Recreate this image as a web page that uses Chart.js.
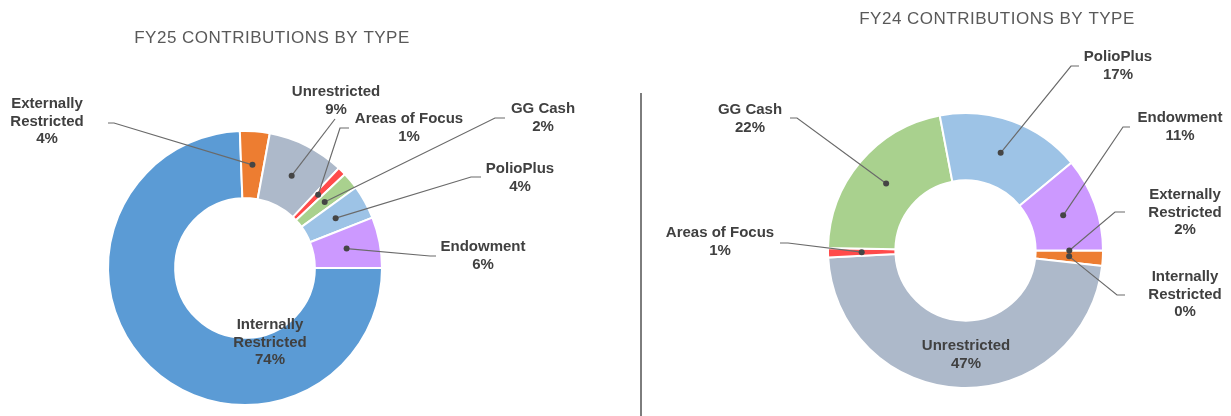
<!DOCTYPE html>
<html>
<head>
<meta charset="utf-8">
<title>Contributions by type</title>
<script src="https://cdn.jsdelivr.net/npm/chart.js@4.4.1/dist/chart.umd.min.js"></script>
<style>
  html, body { margin: 0; padding: 0; background: #fff; overflow: hidden; }
  #wrap { position: relative; width: 1231px; height: 416px; }
  #fy25 { position: absolute; left: 0; top: 0; }
  #fy24 { position: absolute; left: 640px; top: 0; }
  #divider { position: absolute; left: 640px; top: 93px; width: 2px; height: 323px; background: #7d7d7d; }
</style>
</head>
<body>
<div id="wrap">
  <canvas id="fy25" width="640" height="416"></canvas>
  <div id="divider"></div>
  <canvas id="fy24" width="591" height="416"></canvas>
</div>
<script>
// categories, in the order the slices run clockwise from 3 o'clock
const categories = ["Internally Restricted", "Externally Restricted", "Unrestricted", "Areas of Focus", "GG Cash", "PolioPlus", "Endowment"];
const labelNames = ["Internally\nRestricted", "Externally\nRestricted", "Unrestricted", "Areas of Focus", "GG Cash", "PolioPlus", "Endowment"];

// share of contributions (%)
const fy25Values = [74.4, 3.5, 9.1, 1.0, 2.0, 4.0, 6.0];
const fy24Values = [0, 1.8, 47.4, 1.1, 21.7, 17.0, 11.0];

const sliceColors = ["#5B9BD5", "#ED7D31", "#ADB9CA", "#FF4B4B", "#A9D18E", "#9DC3E6", "#CC99FF"];

// where each data label sits (page pixels) and the elbow of its leader line
// (dotOf: the two tiny FY24 slices have their leaders swapped, as in the original)
const fy25Spots = [
    { x: 270, y: 325 },
    { x: 47, y: 104, line: [[108, 123], [114, 123]] },
    { x: 336, y: 92, line: [[335, 119]] },
    { x: 409, y: 119, line: [[349, 128], [340, 128]] },
    { x: 543, y: 109, line: [[505, 118], [495, 118]] },
    { x: 520, y: 169, line: [[481, 177], [471, 177]] },
    { x: 483, y: 247, line: [[436, 256], [430, 256]] }
];
const fy24Spots = [
    { x: 1185, y: 277, line: [[1125, 295], [1117, 295]], dotOf: 1 },
    { x: 1185, y: 195, line: [[1125, 212], [1115, 212]], dotOf: 0 },
    { x: 966, y: 346 },
    { x: 720, y: 233, line: [[780, 243], [788, 243]] },
    { x: 750, y: 110, line: [[790, 118], [797, 118]] },
    { x: 1118, y: 57, line: [[1079, 66], [1071, 66]] },
    { x: 1180, y: 118, line: [[1130, 127], [1123, 127]] }
];

Chart.defaults.font.family = '"Liberation Sans", Arial, sans-serif';

const calloutPlugin = {
    id: "callouts",
    afterDraw(chart, args, opts) {
        const ctx = chart.ctx;
        const meta = chart.getDatasetMeta(0);
        const values = chart.data.datasets[0].data;
        const total = values.reduce((a, b) => a + b, 0);
        const ox = opts.originX;

        ctx.save();
        ctx.translate(-ox, 0);

        // title
        ctx.font = '17px "Liberation Sans", Arial, sans-serif';
        ctx.fillStyle = "#595959";
        ctx.textAlign = "center";
        ctx.textBaseline = "middle";
        if ("letterSpacing" in ctx) ctx.letterSpacing = "0.5px";
        ctx.fillText(opts.title, opts.titleX, opts.titleY);
        if ("letterSpacing" in ctx) ctx.letterSpacing = "0px";

        // leader lines + dots
        meta.data.forEach((arc, i) => {
            const spot = opts.spots[i];
            if (!spot.line) return;
            const target = spot.dotOf !== undefined ? meta.data[spot.dotOf] : arc;
            const c = target.getCenterPoint();
            const dx = c.x + ox, dy = c.y;
            ctx.strokeStyle = "#6a6a6a";
            ctx.lineWidth = 1.2;
            ctx.beginPath();
            ctx.moveTo(spot.line[0][0], spot.line[0][1]);
            for (let k = 1; k < spot.line.length; k++) ctx.lineTo(spot.line[k][0], spot.line[k][1]);
            ctx.lineTo(dx, dy);
            ctx.stroke();
            ctx.fillStyle = "#454545";
            ctx.beginPath();
            ctx.arc(dx, dy, 3, 0, Math.PI * 2);
            ctx.fill();
        });

        // label text
        ctx.font = 'bold 15px "Liberation Sans", Arial, sans-serif';
        ctx.fillStyle = "#404040";
        meta.data.forEach((arc, i) => {
            const spot = opts.spots[i];
            const pct = Math.round(values[i] / total * 100) + "%";
            const lines = labelNames[i].split("\n").concat(pct);
            lines.forEach((t, k) => ctx.fillText(t, spot.x, spot.y + k * 17.6));
        });

        ctx.restore();
    }
};

function makeDonut(id, values, padding, plugOpts) {
    return new Chart(document.getElementById(id), {
        type: "doughnut",
        data: {
            labels: categories,
            datasets: [{
                data: values,
                backgroundColor: sliceColors,
                borderColor: "#ffffff",
                borderWidth: 2,
                hoverBorderWidth: 2
            }]
        },
        options: {
            responsive: false,
            animation: false,
            devicePixelRatio: 1,
            rotation: 90,
            cutout: "51%",
            layout: { padding: padding },
            events: [],
            plugins: {
                legend: { display: false },
                tooltip: { enabled: false },
                callouts: plugOpts
            }
        },
        plugins: [calloutPlugin]
    });
}

makeDonut("fy25", fy25Values,
    { left: 107, right: 257, top: 130, bottom: 10 },
    { originX: 0, title: "FY25 CONTRIBUTIONS BY TYPE", titleX: 272, titleY: 38, spots: fy25Spots });

makeDonut("fy24", fy24Values,
    { left: 187, right: 127, top: 112, bottom: 27 },
    { originX: 640, title: "FY24 CONTRIBUTIONS BY TYPE", titleX: 997, titleY: 19, spots: fy24Spots });
</script>
</body>
</html>
